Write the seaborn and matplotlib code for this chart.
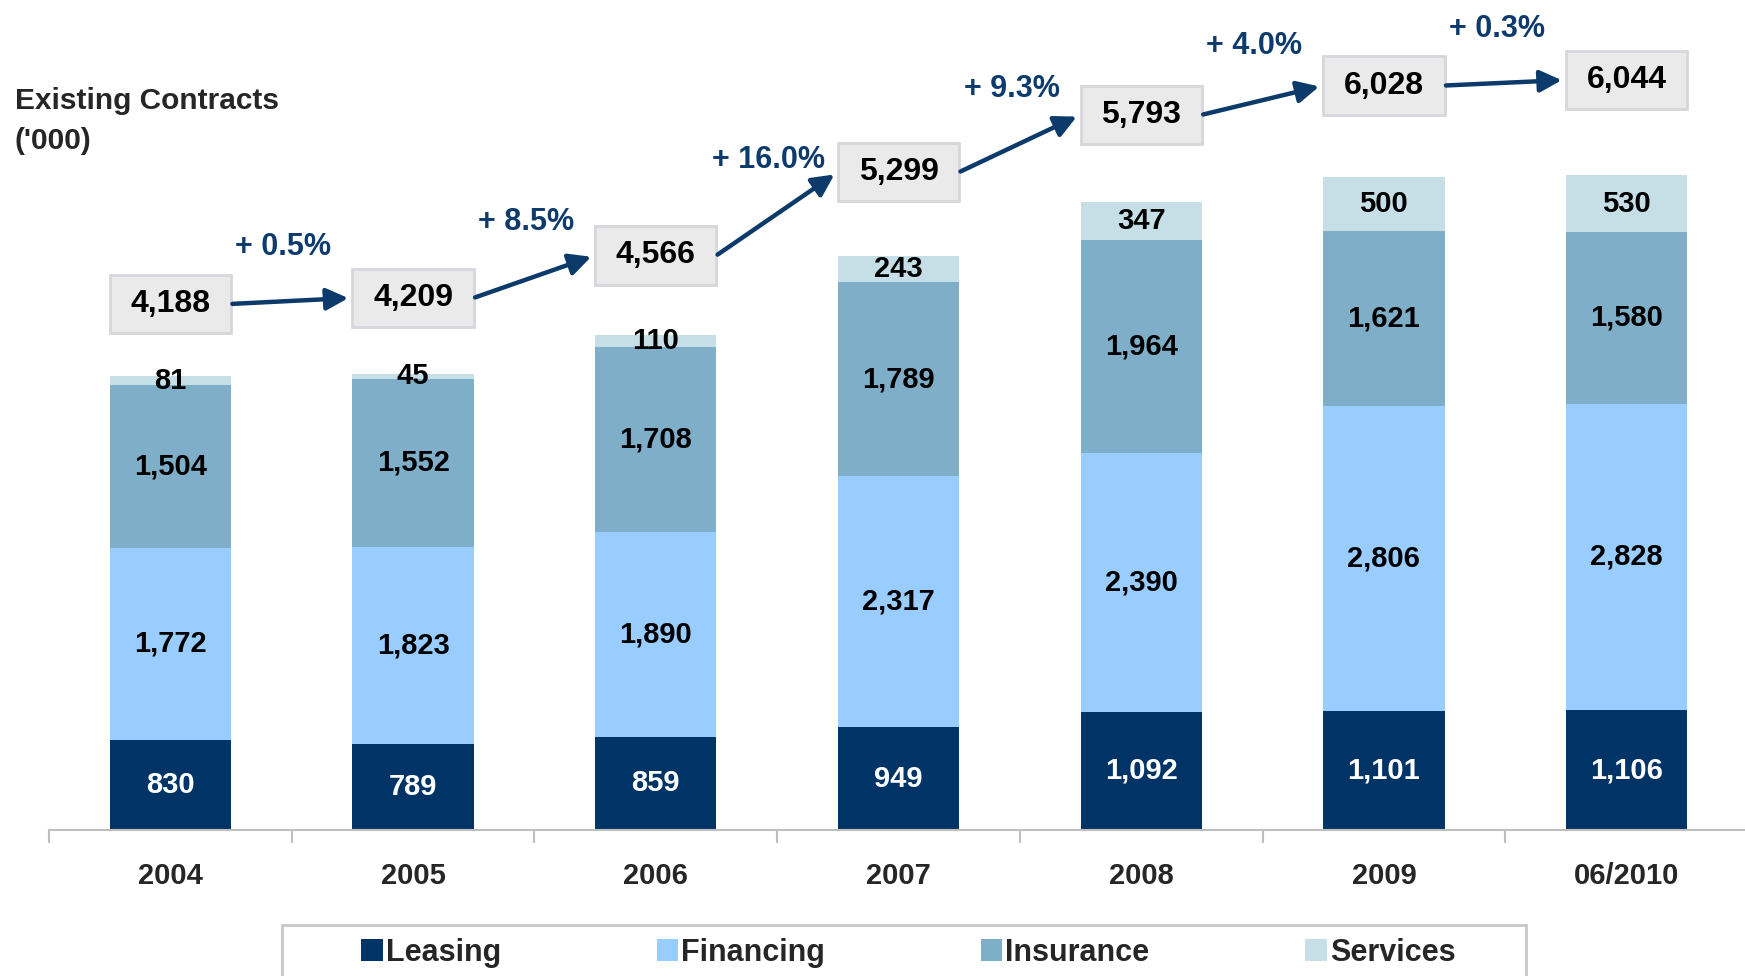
import numpy as np
import pandas as pd
import matplotlib
matplotlib.use("Agg")
import matplotlib.pyplot as plt
from matplotlib.patches import Rectangle, Patch
import seaborn as sns

# données (milliers de contrats)
years = ["2004", "2005", "2006", "2007", "2008", "2009", "06/2010"]
leasing = [830, 789, 859, 949, 1092, 1101, 1106]
financing = [1772, 1823, 1890, 2317, 2390, 2806, 2828]
insurance = [1504, 1552, 1708, 1789, 1964, 1621, 1580]
services = [81, 45, 110, 243, 347, 500, 530]
totals = [4188, 4209, 4566, 5299, 5793, 6028, 6044]
growth = ["+ 0.5%", "+ 8.5%", "+ 16.0%", "+ 9.3%", "+ 4.0%", "+ 0.3%"]

series = ["Leasing", "Financing", "Insurance", "Services"]
colors = ["#003366", "#99CCFF", "#7FAFC8", "#C6DFE6"]

df = pd.DataFrame({"year": years, "Leasing": leasing, "Financing": financing,
                   "Insurance": insurance, "Services": services})
cum = df[series].cumsum(axis=1)

sns.set_theme(style="white")
plt.rcParams["font.family"] = ["Liberation Sans", "DejaVu Sans"]
plt.rcParams["font.weight"] = "bold"

fig = plt.figure(figsize=(17.45, 9.76), dpi=100)
ax = fig.add_axes([0.0281, 0.1496, 0.9736, 0.8504])

# barres empilées : on dessine les cumuls du plus haut au plus bas
for s, c in zip(series[::-1], colors[::-1]):
    sns.barplot(x=df["year"], y=cum[s], color=c, width=0.5, saturation=1,
                order=years, ax=ax, edgecolor="none", linewidth=0)

# étiquettes au centre de chaque segment
for i in range(len(years)):
    bottom = 0
    for s in series:
        v = df.loc[i, s]
        ax.text(i, bottom + v / 2, f"{v:,}", ha="center", va="center",
                fontsize=21, fontweight="bold",
                color="white" if s == "Leasing" else "black")
        bottom += v

# totaux dans des boîtes + flèches de croissance
box_y = [t + 665 + 35 * i for i, t in enumerate(totals)]
box_h = 540
for i, t in enumerate(totals):
    ax.add_patch(Rectangle((i - 0.25, box_y[i] - box_h / 2), 0.5, box_h,
                           facecolor="#EAEAEA", edgecolor="#D6D6DC",
                           linewidth=2, clip_on=False, zorder=3))
    ax.text(i, box_y[i], f"{t:,}", ha="center", va="center", fontsize=23,
            fontweight="bold", color="black", zorder=4)

for i, g in enumerate(growth):
    ax.annotate("", xy=(i + 0.75, box_y[i + 1]), xytext=(i + 0.25, box_y[i]),
                arrowprops=dict(arrowstyle="-|>,head_length=0.6,head_width=0.3",
                                color="#0B3A6B", lw=3.2, shrinkA=1, shrinkB=3,
                                mutation_scale=22),
                annotation_clip=False)
    ax.annotate(g, xy=(i + 0.5, (box_y[i] + box_y[i + 1]) / 2),
                xytext=(-6, 39), textcoords="offset points",
                ha="center", va="center", fontsize=22, fontweight="bold",
                color="#0D3B6E", annotation_clip=False)

ax.set_xlim(-0.5, 6.5)
ax.set_ylim(0, 7657)
ax.set_xlabel("")
ax.set_ylabel("")
ax.set_yticks([])
ax.set_xticks(range(len(years)), years)
ax.set_xticks(np.arange(-0.5, len(years), 1), minor=True)
ax.tick_params(axis="x", which="major", length=0, pad=23, labelsize=21)
ax.tick_params(axis="x", which="minor", length=9, width=1.5, color="#BFBFBF",
               direction="out", bottom=True)
for lab in ax.get_xticklabels():
    lab.set_fontweight("bold")
for sp in ["top", "left", "right"]:
    ax.spines[sp].set_visible(False)
ax.spines["bottom"].set_color("#BFBFBF")
ax.spines["bottom"].set_linewidth(1.5)

fig.text(15 / 1745, 0.911, "Existing Contracts\n('000)", ha="left", va="top",
         fontsize=21.5, fontweight="bold", linespacing=1.57)

# légende
fig.patches.append(Rectangle((282 / 1745, -0.05), 1244 / 1745, 0.102,
                             transform=fig.transFigure, facecolor="white",
                             edgecolor="#C8C8CC", linewidth=2))
handles = [Patch(facecolor=c, edgecolor="none") for c in colors]
leg = fig.legend(handles, series, loc="upper left",
                 bbox_to_anchor=(346 / 1745, 0.055), ncol=4, frameon=False,
                 fontsize=22, handlelength=0.7, handleheight=0.7,
                 handletextpad=0.1, columnspacing=5.1, borderpad=0)
for t in leg.get_texts():
    t.set_fontweight("bold")

fig.savefig("out.png", dpi=100)
